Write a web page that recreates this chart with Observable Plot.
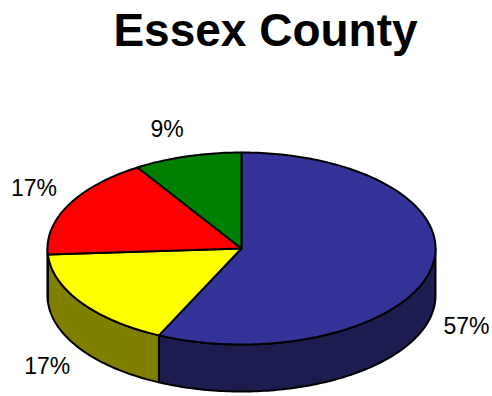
<!DOCTYPE html>
<html><head><meta charset="utf-8">
<script src="https://cdn.jsdelivr.net/npm/d3@7"></script>
<script src="https://cdn.jsdelivr.net/npm/@observablehq/plot@0.6"></script>
<style>body{margin:0;background:#fff} svg{display:block}</style>
</head><body><div id="chart"></div>
<script>
const title = "Essex County";
const categories = ["Slice 1", "Slice 2", "Slice 3", "Slice 4"];
const values = [57, 17, 17, 9];
const labels = ["57%", "17%", "17%", "9%"];
const topColors = ["#333399", "#ffff00", "#ff0000", "#008000"];
const sideColors = ["#1c1c4e", "#808000", "#800000", "#004000"];

const W = 492, H = 396;
const cx = 241, cy = 248, rx = 194, ry = 96, depth = 47;
const font = "Liberation Sans, Arial, Helvetica, sans-serif";

const arcs = d3.pie().sort(null).value(d => d)(values);

function arcPts(a0, a1, dy) {
  const n = Math.max(2, Math.ceil((a1 - a0) / (Math.PI / 180)));
  const pts = [];
  for (let k = 0; k <= n; k++) {
    const a = a0 + (a1 - a0) * k / n;
    pts.push({x: cx + rx * Math.sin(a), y: cy - ry * Math.cos(a) + dy});
  }
  return pts;
}

const topPts = [], sidePts = [];
arcs.forEach((arc, i) => {
  const id = categories[i];
  topPts.push({x: cx, y: cy, id, color: topColors[i]});
  arcPts(arc.startAngle, arc.endAngle, 0).forEach(p => topPts.push({...p, id, color: topColors[i]}));
  const s0 = Math.max(arc.startAngle, Math.PI / 2), s1 = Math.min(arc.endAngle, 3 * Math.PI / 2);
  if (s1 > s0) {
    arcPts(s0, s1, 0).forEach(p => sidePts.push({...p, id, color: sideColors[i]}));
    arcPts(s0, s1, depth).reverse().forEach(p => sidePts.push({...p, id, color: sideColors[i]}));
  }
});

const labelRows = arcs.map((arc, i) => {
  const m = (arc.startAngle + arc.endAngle) / 2;
  const s = Math.sin(m), c = Math.cos(m);
  return {
    label: labels[i],
    x: cx + rx * s + 13 * s,
    y: cy - ry * c - 20 * c + (c < 0 ? depth - 3 : 0),
    right: s >= 0,
    front: c < 0
  };
});

const labelMarks = [];
for (const right of [true, false]) for (const front of [true, false]) {
  labelMarks.push(Plot.text(labelRows.filter(d => d.right === right && d.front === front), {
    x: "x", y: "y", text: "label",
    textAnchor: right ? "start" : "end",
    lineAnchor: front ? "top" : "bottom",
    fontSize: 23, fontFamily: font, fill: "black"
  }));
}

const chart = Plot.plot({
  width: W, height: H, margin: 0,
  x: {domain: [0, W], range: [0, W], axis: null},
  y: {domain: [0, H], range: [0, H], axis: null},
  color: {type: "identity"},
  marks: [
    Plot.line(sidePts, {x: "x", y: "y", z: "id", fill: "color", stroke: "black", strokeWidth: 2, curve: "linear-closed", strokeLinejoin: "round"}),
    Plot.line(topPts, {x: "x", y: "y", z: "id", fill: "color", stroke: "black", strokeWidth: 2, curve: "linear-closed", strokeLinejoin: "round"}),
    ...labelMarks,
    Plot.text([title], {x: () => 265, y: () => 45, text: d => d, lineAnchor: "bottom", fontSize: 46, fontWeight: "bold", fontFamily: font, fill: "black"})
  ]
});
document.getElementById("chart").append(chart);
</script>
</body></html>
